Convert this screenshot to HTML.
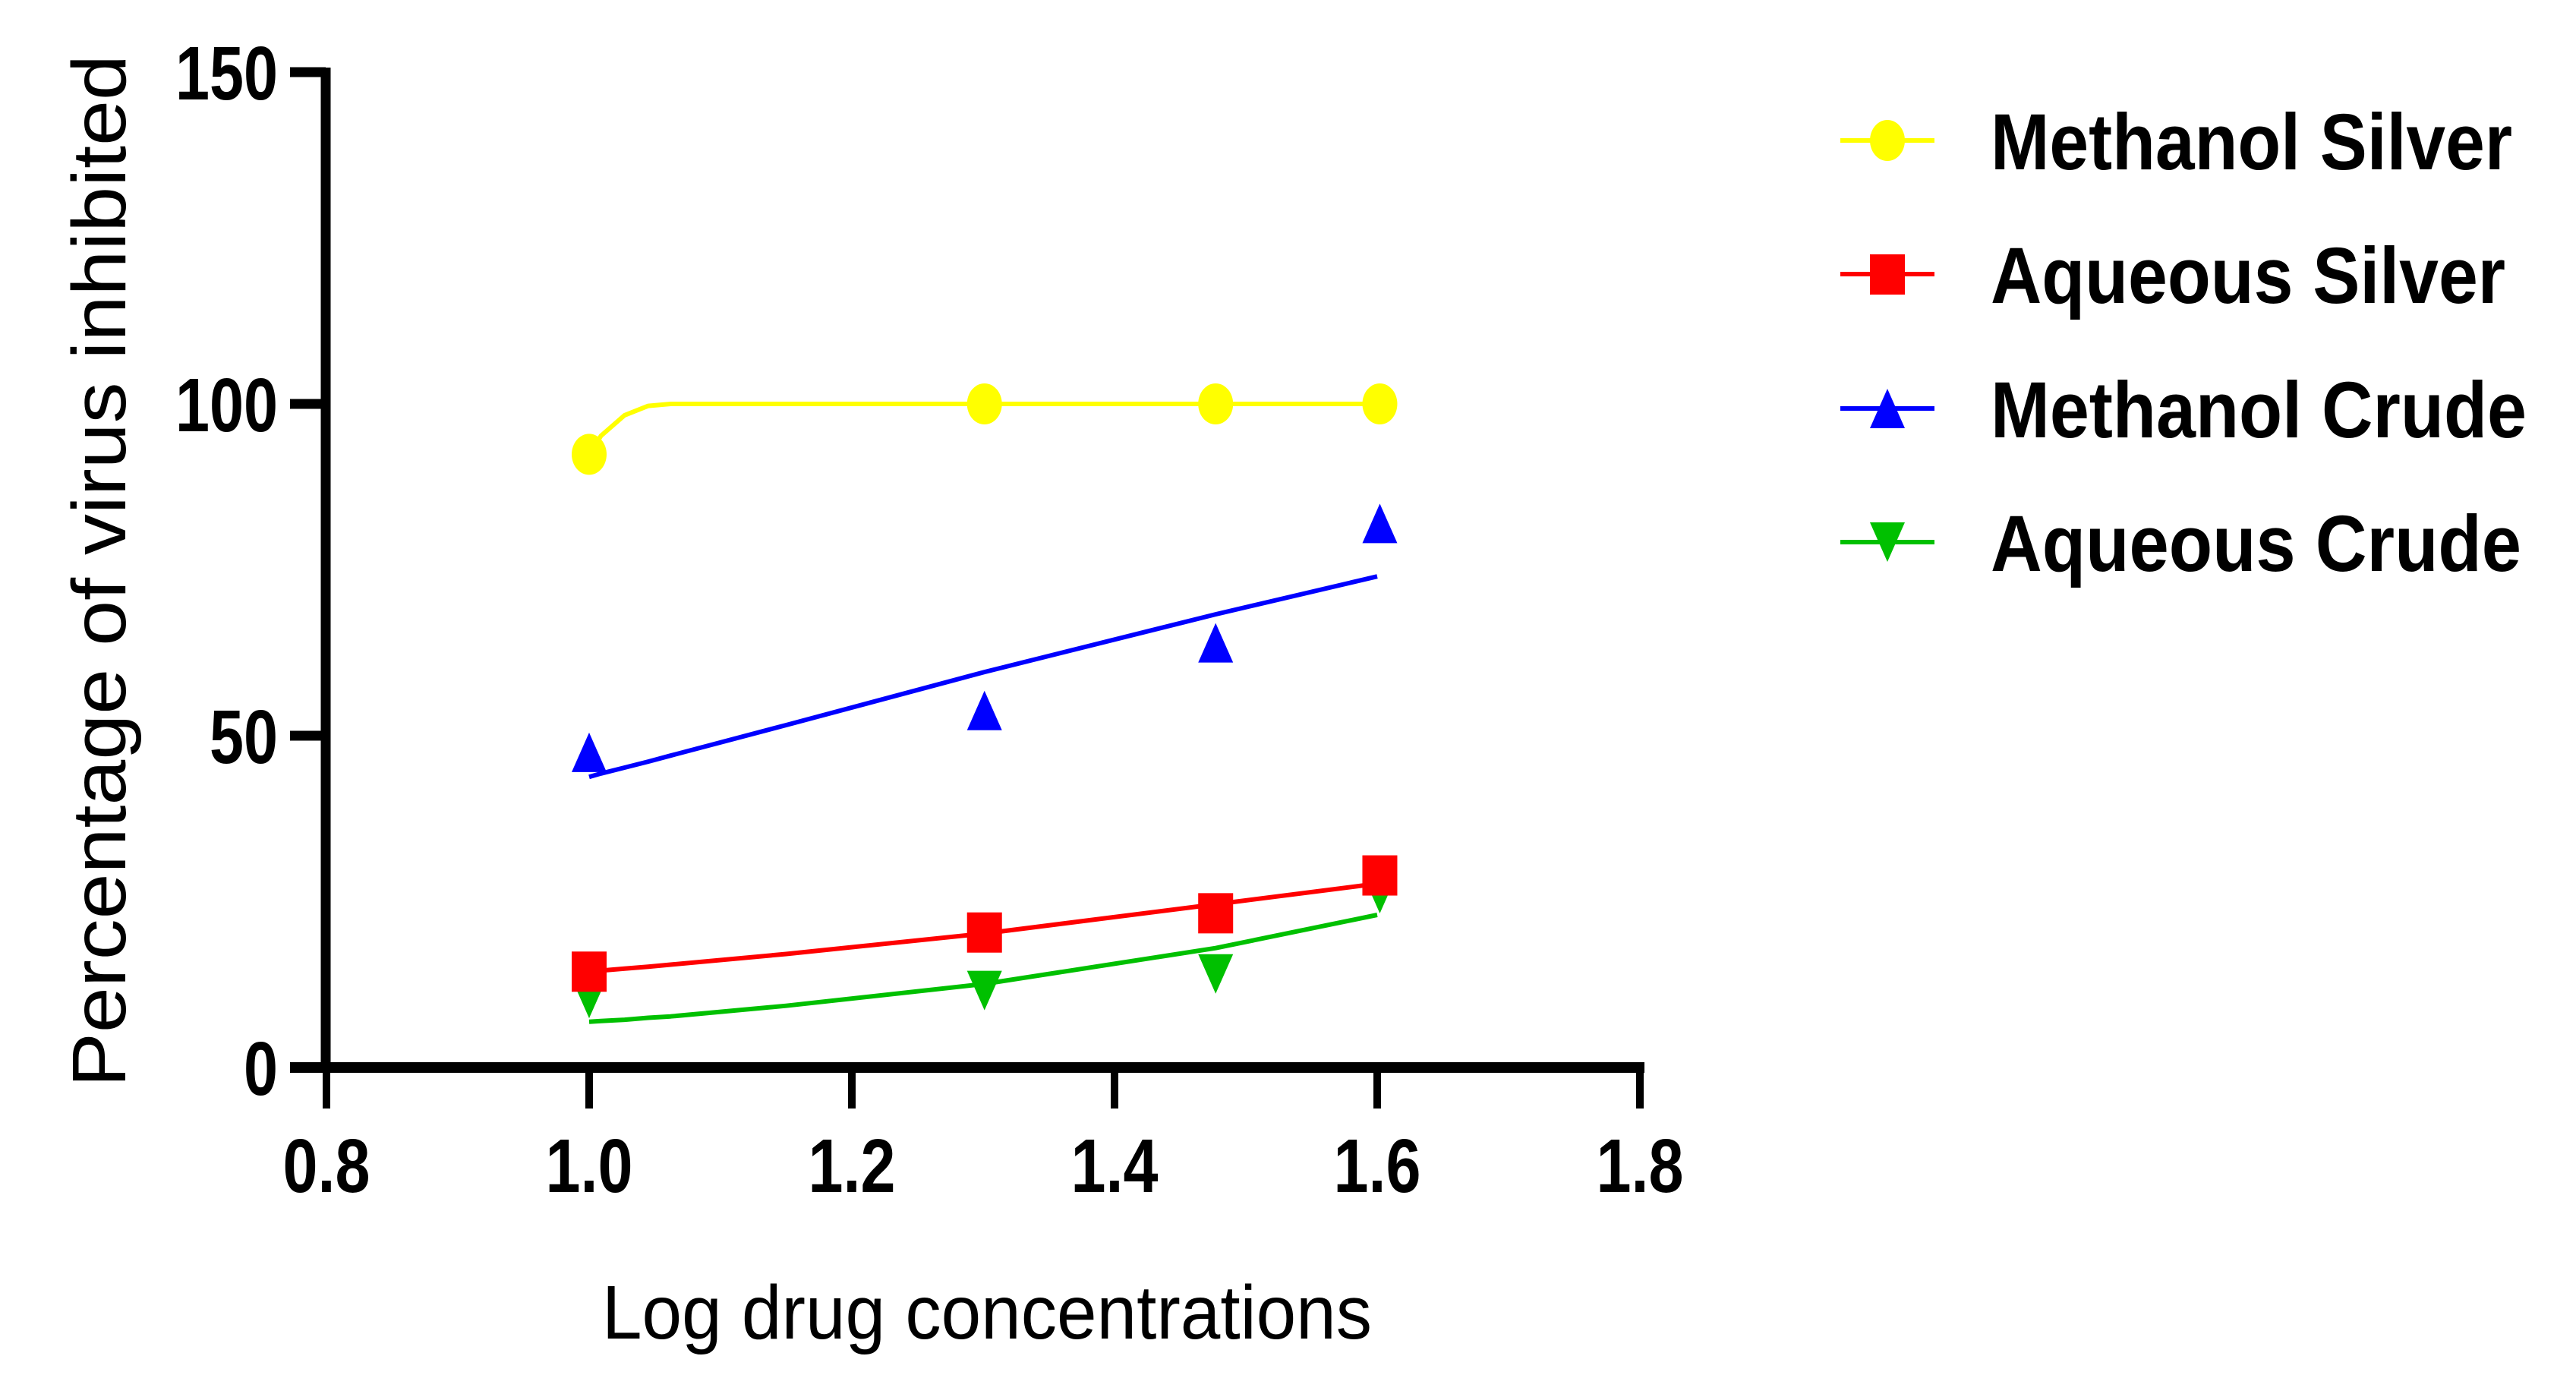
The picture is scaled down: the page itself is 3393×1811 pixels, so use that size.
<!DOCTYPE html>
<html><head><meta charset="utf-8"><style>
html,body{margin:0;padding:0;background:#fff;}
svg{display:block;}
text{font-family:"Liberation Sans",Arial,sans-serif;}
</style></head><body>
<svg id="chart" width="3393" height="1811" viewBox="0 0 3393 1811" xmlns="http://www.w3.org/2000/svg">
<rect width="3393" height="1811" fill="#fff"/>
<g id="fits"></g>
<g id="marks"></g>
<g id="axes"></g>
<text x="1300" y="1763" font-size="100" text-anchor="middle" textLength="1014" lengthAdjust="spacingAndGlyphs">Log drug concentrations</text>
<text transform="translate(165,752) rotate(-90)" font-size="100" text-anchor="middle" textLength="1360" lengthAdjust="spacingAndGlyphs">Percentage of virus inhibited</text>
<g id="legend"></g>
</svg>
<script>
const xValues = [1.0, 1.301, 1.477, 1.602];
const seriesNames = ["Methanol Silver", "Aqueous Silver", "Methanol Crude", "Aqueous Crude"];
const methanolSilver = [92.4, 100, 100, 100];
const aqueousSilver = [14.5, 20.4, 23.3, 29];
const methanolCrude = [47.5, 53.8, 64, 82];
const aqueousCrude = [10.4, 11.6, 14.1, 26.2];
const fitX = [1.0, 1.009, 1.027, 1.045, 1.062, 1.15, 1.301, 1.477, 1.6];
const fitMethanolSilver = [92.4, 95.2, 98.3, 99.7, 100, 100, 100, 100, 100];
const fitAqueousSilver = [14.5, 14.6, 14.9, 15.2, 15.5, 17.1, 20.2, 24.6, 27.7];
const fitMethanolCrude = [43.8, 44.3, 45.2, 46.1, 47, 51.6, 59.6, 68.3, 74];
const fitAqueousCrude = [6.9, 7.0, 7.2, 7.5, 7.7, 9.3, 12.6, 18, 23];
const xTicks = [0.8, 1.0, 1.2, 1.4, 1.6, 1.8];
const xTickLabels = ["0.8", "1.0", "1.2", "1.4", "1.6", "1.8"];
const yTicks = [0, 50, 100, 150];
const yTickLabels = ["0", "50", "100", "150"];

const NS = "http://www.w3.org/2000/svg";
function X(v){ return 430 + (v - 0.8) * 1730; }
function Y(v){ return 1406 - v * 8.74; }
function el(tag, attrs, parent){
  const e = document.createElementNS(NS, tag);
  for (const k in attrs) e.setAttribute(k, attrs[k]);
  parent.appendChild(e); return e;
}
const colors = ["#ffff00", "#ff0000", "#0000ff", "#00c000"];
const shapes = ["circle", "square", "up", "down"];
const data = [methanolSilver, aqueousSilver, methanolCrude, aqueousCrude];
const fits = [fitMethanolSilver, fitAqueousSilver, fitMethanolCrude, fitAqueousCrude];
const keys = ["methanol-silver", "aqueous-silver", "methanol-crude", "aqueous-crude"];

function marker(shape, cx, cy, color, parent){
  let m;
  if (shape === "circle") m = el("ellipse", {cx:cx, cy:cy, rx:23, ry:27, fill:color}, parent);
  else if (shape === "square") m = el("rect", {x:cx-23, y:cy-26, width:46, height:53, fill:color}, parent);
  else if (shape === "up") m = el("polygon", {points:`${cx},${cy-26} ${cx+23},${cy+26} ${cx-23},${cy+26}`, fill:color}, parent);
  else m = el("polygon", {points:`${cx-23},${cy-26} ${cx+23},${cy-26} ${cx},${cy+26}`, fill:color}, parent);
  return m;
}

const fitsG = document.getElementById("fits");
fits.forEach((f, i) => {
  const pts = fitX.map((x, j) => `${X(x).toFixed(1)},${Y(f[j]).toFixed(1)}`).join(" ");
  const p = el("polyline", {points:pts, fill:"none", stroke:colors[i], "stroke-width":6, "stroke-linejoin":"round"}, fitsG);
  
  
});

const marksG = document.getElementById("marks");
[3, 1, 2, 0].forEach(i => {
  data[i].forEach((v, j) => {
    const m = marker(shapes[i], X(xValues[j]), Y(v), colors[i], marksG);
    
    
  });
});

const axesG = document.getElementById("axes");
const yAxis = el("line", {x1:429, y1:Y(150)-6, x2:429, y2:Y(0), stroke:"#000", "stroke-width":13}, axesG);


const xAxis = el("line", {x1:382, y1:1406, x2:X(1.8)+6, y2:1406, stroke:"#000", "stroke-width":14}, axesG);


xTicks.forEach((t, i) => {
  const tk = el("line", {x1:X(t), y1:1406, x2:X(t), y2:1460, stroke:"#000", "stroke-width":10}, axesG);
  
  
  const tl = el("text", {x:X(t), y:1570, "font-size":100, "font-weight":"bold", "text-anchor":"middle", textLength:115, lengthAdjust:"spacingAndGlyphs"}, axesG);
  tl.textContent = xTickLabels[i];
  
  
});
yTicks.forEach((t, i) => {
  const tk = el("line", {x1:382, y1:Y(t), x2:429, y2:Y(t), stroke:"#000", "stroke-width":13}, axesG);
  
  
  const w = yTickLabels[i].length * 45;
  const tl = el("text", {x:366, y:Y(t)+36, "font-size":100, "font-weight":"bold", "text-anchor":"end", textLength:w, lengthAdjust:"spacingAndGlyphs"}, axesG);
  tl.textContent = yTickLabels[i];
  
  
});

const legendG = document.getElementById("legend");
const legendY = [185, 361, 538, 714];
const legendW = [687, 678, 706, 699];
seriesNames.forEach((name, i) => {
  const g = el("g", {}, legendG);
  
  
  const ln = el("line", {x1:2424, y1:legendY[i], x2:2548, y2:legendY[i], stroke:colors[i], "stroke-width":6}, g);
  
  
  const mk = marker(shapes[i], 2486, legendY[i], colors[i], g);
  
  
  const tx = el("text", {x:2622, y:legendY[i]+38, "font-size":105, "font-weight":"bold", textLength:legendW[i], lengthAdjust:"spacingAndGlyphs"}, g);
  tx.textContent = name;
  
  
});
</script>
</body></html>
